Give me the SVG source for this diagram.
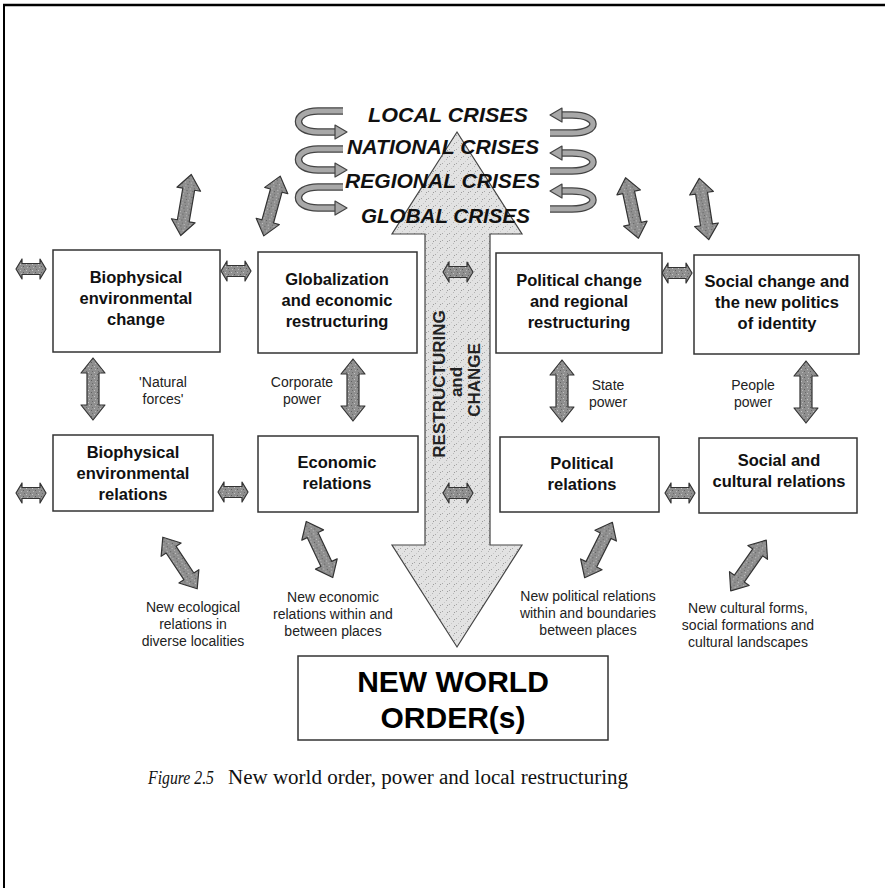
<svg xmlns="http://www.w3.org/2000/svg" width="885" height="888" viewBox="0 0 885 888">
<style>
.box{fill:#fff;stroke:#333;stroke-width:1.5}
.bt{font-family:"Liberation Sans",Arial,sans-serif;font-weight:bold;font-size:16.5px;fill:#111;text-anchor:middle}
.nwo{font-family:"Liberation Sans",Arial,sans-serif;font-weight:bold;font-size:30px;fill:#000;text-anchor:middle}
.lb{font-family:"Liberation Sans",Arial,sans-serif;font-size:14px;fill:#222;text-anchor:middle}
.cr{font-family:"Liberation Sans",Arial,sans-serif;font-weight:bold;font-style:italic;font-size:21px;fill:#111}
.rc{font-family:"Liberation Sans",Arial,sans-serif;font-weight:bold;font-size:17px;fill:#222;text-anchor:middle}
.arr{fill:url(#speck);stroke:#333;stroke-width:1.2;stroke-linejoin:round}
.rib{fill:none;stroke:#444;stroke-width:7.5}
.ribi{fill:none;stroke:#a8a8a8;stroke-width:5}
.head{fill:#a8a8a8;stroke:#444;stroke-width:1.2;stroke-linejoin:round}
.cap{font-family:"Liberation Serif","Times New Roman",serif;font-size:20px;fill:#111}
.capi{font-family:"Liberation Serif","Times New Roman",serif;font-size:19px;font-style:italic;fill:#111}
</style>
<defs>
<pattern id="speck" width="6" height="6" patternUnits="userSpaceOnUse">
<rect width="6" height="6" fill="#8f8f8f"/>
<rect x="1" y="1" width="1" height="1" fill="#c4c4c4"/>
<rect x="4" y="3" width="1" height="1" fill="#5e5e5e"/>
<rect x="2" y="4" width="1" height="1" fill="#b8b8b8"/>
<rect x="5" y="0" width="1" height="1" fill="#6a6a6a"/>
</pattern>
<pattern id="light" width="7" height="7" patternUnits="userSpaceOnUse">
<rect width="7" height="7" fill="#e2e2e2"/>
<rect x="1" y="2" width="1" height="1" fill="#a8a8a8"/>
<rect x="5" y="5" width="1" height="1" fill="#b5b5b5"/>
<rect x="3" y="0" width="1" height="1" fill="#c8c8c8"/>
<rect x="6" y="3" width="1" height="1" fill="#9c9c9c"/>
</pattern>
<path id="big" d="M0,-31 L12,-16 L6,-16 L6,16 L12,16 L0,31 L-12,16 L-6,16 L-6,-16 L-12,-16 Z"/>
<path id="small" d="M-15,0 L-9,-10 L-9,-5.5 L9,-5.5 L9,-10 L15,0 L9,10 L9,5.5 L-9,5.5 L-9,10 Z"/>
<g id="lspiral">
<path class="rib" d="M343,111 L318,111 C292,111 292,132 318,132 L336,132"/>
<path class="ribi" d="M343,111 L318,111 C292,111 292,132 318,132 L336,132"/>
<polygon class="head" points="335,125 347,132 335,139"/>
</g>
<g id="rspiral">
<path class="rib" d="M561,115 L572,115 C600,115 600,133 572,133 L550,133"/>
<path class="ribi" d="M561,115 L572,115 C600,115 600,133 572,133 L550,133"/>
<polygon class="head" points="562,108 550,115 562,122"/>
</g>
</defs>

<g id="frame">
<line x1="3" y1="5" x2="885" y2="5" stroke="#000" stroke-width="2.5"/>
<line x1="4" y1="4" x2="4" y2="888" stroke="#000" stroke-width="2"/>
</g>

<g id="central-arrow">
<path d="M457,132 L522,234 L490,234 L490,545 L522,545 L457,647 L392,545 L425,545 L425,234 L392,234 Z" fill="url(#light)" stroke="#444" stroke-width="1.2" stroke-linejoin="miter"/>
<text class="rc" transform="translate(445,384) rotate(-90)">RESTRUCTURING</text>
<text class="rc" transform="translate(462,382) rotate(-90)">and</text>
<text class="rc" transform="translate(480,380) rotate(-90)">CHANGE</text>
</g>

<g id="crises">
<use href="#lspiral"/>
<use href="#lspiral" transform="translate(0,38)"/>
<use href="#lspiral" transform="translate(0,76)"/>
<use href="#rspiral"/>
<use href="#rspiral" transform="translate(0,38)"/>
<use href="#rspiral" transform="translate(0,76)"/>
<text class="cr" x="368" y="122" textLength="160" lengthAdjust="spacingAndGlyphs">LOCAL CRISES</text>
<text class="cr" x="347" y="154" textLength="192" lengthAdjust="spacingAndGlyphs">NATIONAL CRISES</text>
<text class="cr" x="345" y="188" textLength="195" lengthAdjust="spacingAndGlyphs">REGIONAL CRISES</text>
<text class="cr" x="361" y="223" textLength="169" lengthAdjust="spacingAndGlyphs">GLOBAL CRISES</text>
</g>

<g id="connectors">
<use href="#big" class="arr" transform="translate(186,205) rotate(9.8)"/>
<use href="#big" class="arr" transform="translate(272,206) rotate(15.4)"/>
<use href="#big" class="arr" transform="translate(632,208) rotate(-12)"/>
<use href="#big" class="arr" transform="translate(704,209) rotate(-8.8)"/>
<use href="#big" class="arr" transform="translate(93,389)"/>
<use href="#big" class="arr" transform="translate(353,390)"/>
<use href="#big" class="arr" transform="translate(562,391)"/>
<use href="#big" class="arr" transform="translate(806,392)"/>
<use href="#big" class="arr" transform="translate(180,563) rotate(-33.7)"/>
<use href="#big" class="arr" transform="translate(319.5,549.5) rotate(-25.3)"/>
<use href="#big" class="arr" transform="translate(598.5,550) rotate(26.6)"/>
<use href="#big" class="arr" transform="translate(748.5,565.5) rotate(35)"/>
<use href="#small" class="arr" transform="translate(31,269)"/>
<use href="#small" class="arr" transform="translate(236,271)"/>
<use href="#small" class="arr" transform="translate(31,493)"/>
<use href="#small" class="arr" transform="translate(233,492)"/>
<use href="#small" class="arr" transform="translate(458,272)"/>
<use href="#small" class="arr" transform="translate(458,493)"/>
<use href="#small" class="arr" transform="translate(677,273)"/>
<use href="#small" class="arr" transform="translate(680,493)"/>
</g>

<g id="bio-change">
<rect class="box" x="53" y="250" width="167" height="102"/>
<text class="bt" x="136" y="283">Biophysical</text>
<text class="bt" x="136" y="304">environmental</text>
<text class="bt" x="136" y="325">change</text>
</g>
<g id="globalization">
<rect class="box" x="258" y="252" width="159" height="101"/>
<text class="bt" x="337" y="285">Globalization</text>
<text class="bt" x="337" y="306">and economic</text>
<text class="bt" x="337" y="327">restructuring</text>
</g>
<g id="political-change">
<rect class="box" x="496" y="253" width="166" height="100"/>
<text class="bt" x="579" y="286">Political change</text>
<text class="bt" x="579" y="307">and regional</text>
<text class="bt" x="579" y="328">restructuring</text>
</g>
<g id="social-change">
<rect class="box" x="694" y="255" width="165" height="99"/>
<text class="bt" x="777" y="287">Social change and</text>
<text class="bt" x="777" y="308">the new politics</text>
<text class="bt" x="777" y="329">of identity</text>
</g>
<g id="bio-relations">
<rect class="box" x="53" y="435" width="160" height="76"/>
<text class="bt" x="133" y="458">Biophysical</text>
<text class="bt" x="133" y="479">environmental</text>
<text class="bt" x="133" y="500">relations</text>
</g>
<g id="economic-relations">
<rect class="box" x="258" y="436" width="160" height="76"/>
<text class="bt" x="337" y="468">Economic</text>
<text class="bt" x="337" y="489">relations</text>
</g>
<g id="political-relations">
<rect class="box" x="500" y="437" width="159" height="75"/>
<text class="bt" x="582" y="469">Political</text>
<text class="bt" x="582" y="490">relations</text>
</g>
<g id="social-relations">
<rect class="box" x="699" y="438" width="158" height="75"/>
<text class="bt" x="779" y="466">Social and</text>
<text class="bt" x="779" y="487">cultural relations</text>
</g>

<g id="power-labels">
<text class="lb" x="163" y="387">'Natural</text>
<text class="lb" x="163" y="404">forces'</text>
<text class="lb" x="302" y="387">Corporate</text>
<text class="lb" x="302" y="404">power</text>
<text class="lb" x="608" y="390">State</text>
<text class="lb" x="608" y="407">power</text>
<text class="lb" x="753" y="390">People</text>
<text class="lb" x="753" y="407">power</text>
</g>

<g id="outcome-labels">
<text class="lb" x="193" y="612">New ecological</text>
<text class="lb" x="193" y="629">relations in</text>
<text class="lb" x="193" y="646">diverse localities</text>
<text class="lb" x="333" y="602">New economic</text>
<text class="lb" x="333" y="619">relations within and</text>
<text class="lb" x="333" y="636">between places</text>
<text class="lb" x="588" y="601">New political relations</text>
<text class="lb" x="588" y="618">within and boundaries</text>
<text class="lb" x="588" y="635">between places</text>
<text class="lb" x="748" y="613">New cultural forms,</text>
<text class="lb" x="748" y="630">social formations and</text>
<text class="lb" x="748" y="647">cultural landscapes</text>
</g>

<g id="new-world-order">
<rect class="box" x="298" y="656" width="310" height="84"/>
<text class="nwo" x="453" y="692">NEW WORLD</text>
<text class="nwo" x="453" y="728">ORDER(s)</text>
</g>

<g id="caption">
<text class="capi" x="148" y="784" textLength="66" lengthAdjust="spacingAndGlyphs">Figure 2.5</text>
<text class="cap" x="228" y="784" textLength="400" lengthAdjust="spacingAndGlyphs">New world order, power and local restructuring</text>
</g>
</svg>
